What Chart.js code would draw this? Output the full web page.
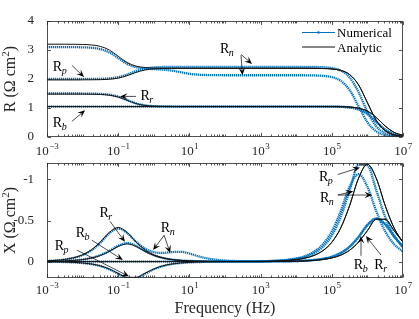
<!DOCTYPE html>
<html>
<head>
<meta charset="utf-8">
<script src="https://cdn.jsdelivr.net/npm/chart.js@4.4.0/dist/chart.umd.min.js"></script>
<style>
html,body{margin:0;padding:0;background:#fff;}
#wrap{position:relative;width:419px;height:319px;overflow:hidden;}
canvas{position:absolute;left:0;}
#top{top:0;}
#bot{top:150px;}
</style>
</head>
<body>
<div id="wrap">
<canvas id="top" width="419" height="160"></canvas>
<canvas id="bot" width="419" height="169"></canvas>
</div>
<script>
// frequency grid, log10(Hz)
const logF = [-3,-2.75,-2.5,-2.25,-2,-1.75,-1.5,-1.25,-1,-0.75,-0.5,-0.25,0,0.25,0.5,0.75,1,1.25,1.5,1.75,
  2,2.25,2.5,2.75,3,3.25,3.5,3.75,4,4.25,4.5,4.75,5,5.25,5.5,5.75,6,6.25,6.5,6.75,7];

// R (top panel) - numerical
const rNumN = [3.10,3.10,3.099,3.098,3.092,3.077,3.031,2.918,2.72,2.522,2.408,2.361,2.341,2.323,2.290,2.235,2.180,2.149,2.136,2.132,
  2.13,2.13,2.13,2.13,2.13,2.13,2.13,2.13,2.13,2.128,2.123,2.109,2.065,1.936,1.619,1.065,0.511,0.194,0.065,0.021,0.007];
const rNumP = [2.00,2.00,2.00,2.00,2.001,2.002,2.007,2.022,2.063,2.151,2.269,2.357,2.398,2.413,2.418,2.42,2.42,2.42,2.42,2.42,
  2.42,2.42,2.42,2.42,2.42,2.42,2.42,2.42,2.42,2.419,2.416,2.406,2.378,2.292,2.055,1.549,0.871,0.365,0.129,0.042,0.014];
const rNumR = [1.50,1.50,1.50,1.50,1.499,1.496,1.486,1.459,1.392,1.275,1.158,1.091,1.064,1.054,1.051,1.05,1.05,1.05,1.05,1.05,
  1.05,1.05,1.05,1.05,1.05,1.05,1.05,1.05,1.05,1.05,1.05,1.049,1.047,1.040,1.018,0.954,0.798,0.525,0.252,0.095,0.032];
const rNumB = [1.05,1.05,1.05,1.05,1.05,1.05,1.05,1.05,1.05,1.05,1.05,1.05,1.05,1.05,1.05,1.05,1.05,1.05,1.05,1.05,
  1.05,1.05,1.05,1.05,1.05,1.05,1.05,1.05,1.05,1.05,1.05,1.049,1.047,1.040,1.018,0.954,0.798,0.525,0.252,0.095,0.032];
// R (top panel) - analytic
const rAnaN = [3.20,3.20,3.20,3.197,3.192,3.175,3.124,3.001,2.785,2.569,2.445,2.395,2.378,2.373,2.371,2.37,2.37,2.37,2.37,2.37,
  2.37,2.37,2.37,2.37,2.37,2.37,2.37,2.37,2.37,2.37,2.368,2.362,2.346,2.297,2.154,1.801,1.185,0.569,0.215,0.073,0.023];
const rAnaP = [1.97,1.97,1.97,1.97,1.971,1.972,1.977,1.991,2.030,2.114,2.226,2.310,2.349,2.363,2.368,2.37,2.37,2.37,2.37,2.37,
  2.37,2.37,2.37,2.37,2.37,2.37,2.37,2.37,2.37,2.37,2.368,2.362,2.346,2.297,2.154,1.801,1.185,0.569,0.215,0.073,0.023];
const rAnaR = [1.48,1.48,1.48,1.48,1.479,1.476,1.467,1.441,1.377,1.265,1.153,1.089,1.063,1.054,1.051,1.05,1.05,1.05,1.05,1.05,
  1.05,1.05,1.05,1.05,1.05,1.05,1.05,1.05,1.05,1.05,1.05,1.049,1.048,1.044,1.032,0.994,0.891,0.672,0.378,0.159,0.056];
const rAnaB = [1.05,1.05,1.05,1.05,1.05,1.05,1.05,1.05,1.05,1.05,1.05,1.05,1.05,1.05,1.05,1.05,1.05,1.05,1.05,1.05,
  1.05,1.05,1.05,1.05,1.05,1.05,1.05,1.05,1.05,1.05,1.05,1.049,1.048,1.044,1.032,0.994,0.891,0.672,0.378,0.159,0.056];

// X (bottom panel) - numerical
const xNumN = [-0.008,-0.014,-0.025,-0.045,-0.079,-0.138,-0.230,-0.343,-0.403,-0.348,-0.242,-0.159,-0.115,-0.105,-0.115,-0.119,-0.098,-0.065,-0.039,-0.022,
  -0.013,-0.007,-0.005,-0.004,-0.004,-0.007,-0.012,-0.021,-0.038,-0.067,-0.120,-0.211,-0.367,-0.612,-0.910,-1.065,-0.910,-0.612,-0.367,-0.211,-0.120];
const xNumP = [0.002,0.003,0.006,0.010,0.018,0.031,0.055,0.094,0.150,0.202,0.202,0.150,0.094,0.055,0.031,0.018,0.010,0.006,0.003,0.002,
  0.001,0,-0.001,-0.002,-0.003,-0.006,-0.010,-0.018,-0.032,-0.057,-0.102,-0.181,-0.317,-0.543,-0.866,-1.18,-1.17,-0.866,-0.543,-0.317,-0.181];
const xNumR = [-0.003,-0.005,-0.008,-0.014,-0.025,-0.045,-0.078,-0.129,-0.192,-0.225,-0.192,-0.129,-0.078,-0.045,-0.025,-0.014,-0.008,-0.005,-0.003,-0.001,
  -0.001,0,0,0,0,-0.001,-0.002,-0.003,-0.006,-0.011,-0.019,-0.033,-0.059,-0.104,-0.181,-0.302,-0.449,-0.525,-0.449,-0.302,-0.181];
const xNumB = [0,0,0,0,0,0,0,0,0,0,0,0,0,0,0,0,0,0,0,0,
  0,0,0,0,0,-0.001,-0.002,-0.003,-0.006,-0.011,-0.019,-0.033,-0.059,-0.104,-0.181,-0.295,-0.440,-0.522,-0.458,-0.310,-0.170];
// X (bottom panel) - analytic
const xAnaN = [-0.008,-0.015,-0.026,-0.047,-0.082,-0.143,-0.239,-0.355,-0.415,-0.355,-0.239,-0.143,-0.082,-0.047,-0.026,-0.015,-0.008,-0.005,-0.003,-0.002,
  -0.001,-0.001,-0.001,-0.001,-0.002,-0.004,-0.008,-0.013,-0.024,-0.042,-0.075,-0.133,-0.235,-0.409,-0.681,-1.013,-1.185,-1.013,-0.681,-0.409,-0.235];
const xAnaP = [0.002,0.003,0.005,0.010,0.017,0.030,0.052,0.090,0.143,0.192,0.192,0.143,0.090,0.052,0.030,0.017,0.010,0.005,0.003,0.002,
  0.001,0,-0.001,-0.001,-0.002,-0.004,-0.008,-0.013,-0.024,-0.042,-0.075,-0.133,-0.235,-0.409,-0.681,-1.013,-1.185,-1.013,-0.681,-0.409,-0.235];
const xAnaR = [-0.002,-0.004,-0.008,-0.014,-0.024,-0.043,-0.074,-0.124,-0.184,-0.215,-0.184,-0.124,-0.074,-0.043,-0.024,-0.014,-0.008,-0.004,-0.002,-0.001,
  -0.001,0,0,0,0,-0.001,-0.001,-0.003,-0.004,-0.008,-0.014,-0.025,-0.044,-0.078,-0.138,-0.236,-0.376,-0.515,-0.515,-0.376,-0.236];
const xAnaB = [0,0,0,0,0,0,0,0,0,0,0,0,0,0,0,0,0,0,0,0,
  0,0,0,0,0,-0.001,-0.001,-0.003,-0.004,-0.008,-0.014,-0.025,-0.044,-0.078,-0.138,-0.236,-0.376,-0.515,-0.515,-0.376,-0.236];

const xTickExp = [-3,-1,1,3,5,7];

const BLUE = '#0072BD';
const AX = '#262626';
const SERIF = '"Liberation Serif","Times New Roman",serif';

function pts(arr){ return arr.map((v,i) => ({x: Math.pow(10, logF[i]), y: v})); }
function numSet(arr){
  return {data: pts(arr), borderColor: BLUE, borderWidth: 2.3, borderDash: [1.3, 0.7],
    pointRadius: 0, cubicInterpolationMode: 'monotone', order: 1};
}
function anaSet(arr){
  return {data: pts(arr), borderColor: '#111', borderWidth: 1,
    pointRadius: 0, cubicInterpolationMode: 'monotone', order: 0};
}

function drawR(ctx, cx, cy, sub){
  ctx.font = '14px ' + SERIF;
  const w1 = ctx.measureText('R').width;
  ctx.font = 'italic 10px ' + SERIF;
  const w2 = ctx.measureText(sub).width;
  const x0 = cx - (w1 + w2) / 2;
  ctx.font = '14px ' + SERIF;
  ctx.fillText('R', x0, cy + 4.5);
  ctx.font = 'italic 10px ' + SERIF;
  ctx.fillText(sub, x0 + w1 - 0.5, cy + 7.5);
}

function drawArrow(ctx, x1, y1, x2, y2){
  const dx = x2 - x1, dy = y2 - y1, len = Math.hypot(dx, dy);
  const ux = dx / len, uy = dy / len, nx = -uy, ny = ux;
  const hl = 7.5, hw = 3.2;
  ctx.lineWidth = 0.7;
  ctx.beginPath(); ctx.moveTo(x1, y1); ctx.lineTo(x2 - ux * hl * 0.6, y2 - uy * hl * 0.6); ctx.stroke();
  ctx.beginPath();
  ctx.moveTo(x2, y2);
  ctx.lineTo(x2 - ux * hl + nx * hw, y2 - uy * hl + ny * hw);
  ctx.lineTo(x2 - ux * hl * 0.6, y2 - uy * hl * 0.6);
  ctx.lineTo(x2 - ux * hl - nx * hw, y2 - uy * hl - ny * hw);
  ctx.closePath(); ctx.fill();
}

function line(ctx, x1, y1, x2, y2){ ctx.beginPath(); ctx.moveTo(x1, y1); ctx.lineTo(x2, y2); ctx.stroke(); }

const framePlugin = {
  id: 'frame',
  afterDraw(chart, args, opts){
    const ctx = chart.ctx, a = chart.chartArea, xs = chart.scales.x, ys = chart.scales.y;
    const L = Math.round(a.left) + 0.5, R = Math.round(a.right) - 0.5;
    const T = Math.round(a.top) + 0.5, B = Math.round(a.bottom) - 0.5;
    ctx.save();
    ctx.strokeStyle = AX; ctx.fillStyle = AX; ctx.lineWidth = 0.8;
    ctx.strokeRect(L, T, R - L, B - T);
    // x ticks (inside, top and bottom)
    for(let d = -3; d <= 7; d++){
      for(let m = 1; m <= 9; m++){
        if(d === 7 && m > 1) break;
        const px = Math.round(xs.getPixelForValue(m * Math.pow(10, d))) + 0.5;
        const major = m === 1 && (d + 3) % 2 === 0;
        const len = major ? 3.5 : 2;
        line(ctx, px, B, px, B - len);
        line(ctx, px, T, px, T + len);
      }
    }
    // y ticks
    ys.ticks.forEach(t => {
      const py = Math.round(ys.getPixelForValue(t.value)) + 0.5;
      line(ctx, L, py, L + 3.5, py);
      line(ctx, R, py, R - 3.5, py);
    });
    // x tick labels 10^n
    ctx.textBaseline = 'alphabetic';
    xTickExp.forEach(e => {
      const px = xs.getPixelForValue(Math.pow(10, e));
      const sup = (e < 0 ? '\u2212' : '') + Math.abs(e);
      ctx.font = '13px ' + SERIF;
      const w1 = ctx.measureText('10').width;
      ctx.font = '9px ' + SERIF;
      const w2 = ctx.measureText(sup).width;
      const x0 = px - (w1 + w2) / 2;
      ctx.font = '13px ' + SERIF;
      ctx.fillText('10', x0, B + opts.labOff);
      ctx.font = '9px ' + SERIF;
      ctx.fillText(sup, x0 + w1 + 0.5, B + opts.labOff - 6);
    });
    // y title
    ctx.save();
    ctx.translate(15, (a.top + a.bottom) / 2);
    ctx.rotate(-Math.PI / 2);
    ctx.font = '16px ' + SERIF;
    const t1 = opts.ytitle + ' (\u03A9 cm', t3 = ')';
    const w1 = ctx.measureText(t1).width, w3 = ctx.measureText(t3).width;
    ctx.font = '11px ' + SERIF;
    const w2 = ctx.measureText('2').width;
    let x0 = -(w1 + w2 + w3) / 2;
    ctx.font = '16px ' + SERIF;
    ctx.fillText(t1, x0, 0);
    ctx.font = '11px ' + SERIF;
    ctx.fillText('2', x0 + w1, -6);
    ctx.font = '16px ' + SERIF;
    ctx.fillText(t3, x0 + w1 + w2, 0);
    ctx.restore();
    // x title
    if(opts.xtitle){
      ctx.font = '16px ' + SERIF;
      ctx.textAlign = 'center';
      ctx.fillText(opts.xtitle, (a.left + a.right) / 2, B + 35);
      ctx.textAlign = 'left';
    }
    // annotations
    ctx.fillStyle = '#000'; ctx.strokeStyle = '#000';
    opts.notes.forEach(n => {
      drawR(ctx, xs.getPixelForValue(Math.pow(10, n.t[0])), ys.getPixelForValue(n.t[1]), n.s);
      n.a.forEach(q => drawArrow(ctx,
        xs.getPixelForValue(Math.pow(10, q[0])), ys.getPixelForValue(q[1]),
        xs.getPixelForValue(Math.pow(10, q[2])), ys.getPixelForValue(q[3])));
    });
    // legend
    if(opts.legend){
      const lx1 = a.right - 101, lx2 = a.right - 68, ly1 = a.top + 11.5, ly2 = a.top + 26;
      ctx.lineWidth = 1;
      ctx.strokeStyle = BLUE; line(ctx, lx1, ly1, lx2, ly1);
      ctx.fillStyle = BLUE; ctx.beginPath(); ctx.arc((lx1 + lx2) / 2, ly1, 1.3, 0, Math.PI * 2); ctx.fill();
      ctx.strokeStyle = '#111'; line(ctx, lx1, ly2, lx2, ly2);
      ctx.fillStyle = '#000'; ctx.font = '13px ' + SERIF;
      ctx.fillText('Numerical', lx2 + 2, ly1 + 4.5);
      ctx.fillText('Analytic', lx2 + 2, ly2 + 4.5);
    }
    ctx.restore();
  }
};

function xAxis(h){
  return {type: 'logarithmic', min: 1e-3, max: 1e7,
    grid: {display: false}, border: {display: false}, ticks: {display: false},
    afterFit(s){ s.height = h; }};
}
function yAxis(extra){
  return Object.assign({
    grid: {display: false}, border: {display: false},
    afterFit(s){ s.width = 47; }
  }, extra);
}

function makeChart(id, sets, yOpts, padTop, xH, frame){
  return new Chart(document.getElementById(id), {
    type: 'line',
    data: {datasets: sets},
    options: {
      responsive: false, animation: false, events: [],
      layout: {padding: {top: padTop, right: 16, left: 0, bottom: 0}},
      plugins: {legend: {display: false}, tooltip: {enabled: false}, frame: frame},
      scales: {x: xAxis(xH), y: yOpts}
    },
    plugins: [framePlugin]
  });
}

makeChart('top',
  [anaSet(rAnaN), anaSet(rAnaP), anaSet(rAnaR), anaSet(rAnaB),
   numSet(rNumN), numSet(rNumP), numSet(rNumR), numSet(rNumB)],
  yAxis({min: 0, max: 4, ticks: {color: AX, padding: 5, stepSize: 1, font: {family: SERIF, size: 13}}}),
  21, 23,
  {ytitle: 'R', labOff: 18, legend: true, xtitle: null,
   notes: [
     {s: 'p', t: [-2.635, 2.44], a: [[-2.30, 2.47, -1.96, 2.07]]},
     {s: 'b', t: [-2.635, 0.51], a: [[-2.30, 0.54, -1.93, 0.92]]},
     {s: 'r', t: [-0.19, 1.44], a: [[-0.50, 1.40, -0.95, 1.40]]},
     {s: 'n', t: [2.06, 3.06], a: [[2.449, 2.85, 2.758, 2.52], [2.449, 2.82, 2.49, 2.13]]}
   ]});

makeChart('bot',
  [anaSet(xAnaN), anaSet(xAnaP), anaSet(xAnaR), anaSet(xAnaB),
   numSet(xNumN), numSet(xNumP), numSet(xNumR), numSet(xNumB)],
  yAxis({min: -1.2, max: 0.2, reverse: true,
    afterBuildTicks(s){ s.ticks = [{value: -1}, {value: -0.5}, {value: 0}]; },
    ticks: {color: AX, padding: 5, font: {family: SERIF, size: 13}, callback: v => (v < 0 ? '-' : '') + Math.abs(v)}}),
  13, 41,
  {ytitle: 'X', labOff: 16.5, legend: false, xtitle: 'Frequency (Hz)',
   notes: [
     {s: 'r', t: [-1.34, -0.60], a: [[-1.23, -0.49, -0.81, -0.24]]},
     {s: 'b', t: [-1.99, -0.36], a: [[-1.74, -0.26, -0.87, -0.02]]},
     {s: 'p', t: [-2.58, -0.19], a: [[-2.16, -0.14, -0.70, 0.18]]},
     {s: 'n', t: [0.40, -0.42], a: [[0.29, -0.32, -0.02, -0.14], [0.29, -0.32, 0.46, -0.105]]},
     {s: 'p', t: [4.84, -1.04], a: [[5.17, -1.06, 5.79, -1.145]]},
     {s: 'n', t: [4.87, -0.78], a: [[5.17, -0.81, 5.60, -0.855], [5.17, -0.81, 6.13, -0.81]]},
     {s: 'b', t: [5.82, 0.03], a: [[5.82, -0.07, 5.82, -0.31]]},
     {s: 'r', t: [6.38, 0.03], a: [[6.38, -0.08, 5.96, -0.31]]}
   ]});
</script>
</body>
</html>
